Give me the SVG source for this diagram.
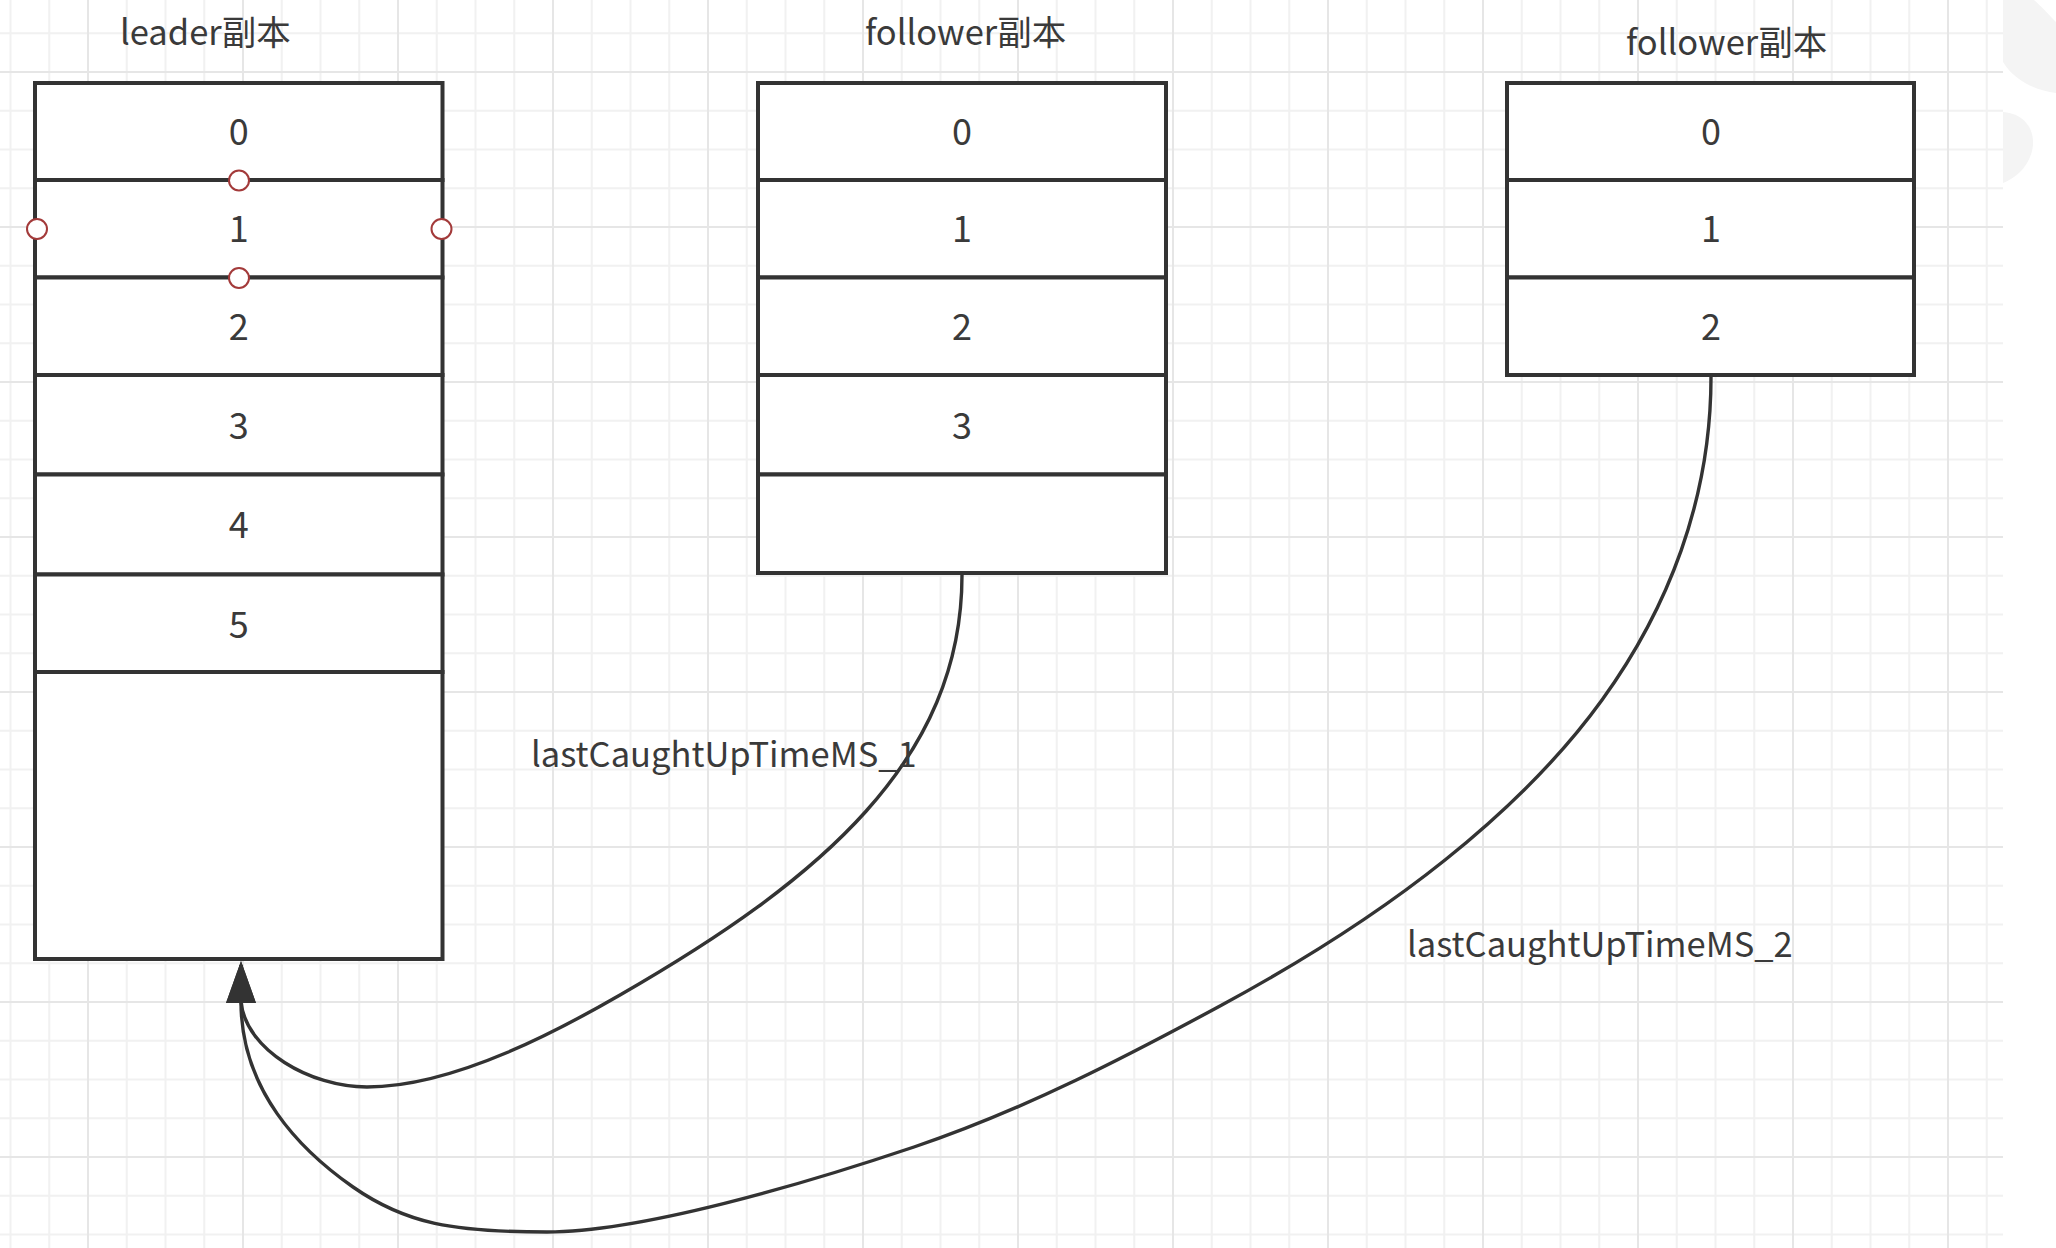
<svg xmlns="http://www.w3.org/2000/svg" width="2056" height="1248" viewBox="0 0 2056 1248">
  <defs>
    <pattern id="grid" x="87" y="71" width="155" height="155" patternUnits="userSpaceOnUse">
      <rect x="0" y="0" width="155" height="155" fill="#ffffff"/>
      <g fill="#f1f1f1">
        <rect x="38.75" y="0" width="2" height="155"/>
        <rect x="77.5" y="0" width="2" height="155"/>
        <rect x="116.25" y="0" width="2" height="155"/>
        <rect x="0" y="38.75" width="155" height="2"/>
        <rect x="0" y="77.5" width="155" height="2"/>
        <rect x="0" y="116.25" width="155" height="2"/>
      </g>
      <g fill="#e6e6e6">
        <rect x="0" y="0" width="2" height="155"/>
        <rect x="0" y="0" width="155" height="2"/>
      </g>
    </pattern>
    <marker id="arrow" markerUnits="userSpaceOnUse" markerWidth="44" markerHeight="32" refX="38" refY="15" orient="auto" viewBox="0 0 44 32">
      <path d="M0,0 L42,15 L0,30 Z" fill="#333333"/>
    </marker>
    <style>
      .cell { fill: #ffffff; stroke: #333333; stroke-width: 4; }
      .num { font-family: "Noto Sans CJK SC", "Noto Sans", sans-serif; font-size: 36px; fill: #3a3a3a; text-anchor: middle; }
      .title { font-family: "Noto Sans CJK SC", "Noto Sans", sans-serif; font-size: 34.5px; fill: #3a3a3a; }
      .lbl { font-family: "Noto Sans CJK SC", "Noto Sans", sans-serif; font-size: 34.5px; fill: #3a3a3a; }
      .edge { fill: none; stroke: #333333; stroke-width: 3.4; }
      .handle { fill: #ffffff; stroke: #a33a3a; stroke-width: 2; }
      .wm { fill: #f4f4f4; }
    </style>
  </defs>

  <rect x="0" y="0" width="2056" height="1248" fill="#ffffff"/>
  <rect x="0" y="0" width="2003" height="1248" fill="url(#grid)"/>
  <path class="wm" d="M2003 0 H2034 C2044 9 2051 17 2056 22 V93 C2034 90 2014 80 2003 62 Z"/>
  <path class="wm" d="M2003 112 C2024 114 2034 128 2033 145 C2031 165 2016 178 2003 183 Z"/>

  <g id="title-leader"><text class="title" x="120" y="45">leader副本</text></g>
  <g id="title-follower1"><text class="title" x="865" y="45">follower副本</text></g>
  <g id="title-follower2"><text class="title" x="1626" y="55">follower副本</text></g>

  <g id="leader">
    <g id="leader-0"><rect class="cell" x="35" y="83" width="407.5" height="97"/><text class="num" x="238.7" y="145">0</text></g>
    <g id="leader-1"><rect class="cell" x="35" y="180" width="407.5" height="97.5"/><text class="num" x="238.7" y="242">1</text></g>
    <g id="leader-2"><rect class="cell" x="35" y="277.5" width="407.5" height="97.5"/><text class="num" x="238.7" y="340">2</text></g>
    <g id="leader-3"><rect class="cell" x="35" y="375" width="407.5" height="99.5"/><text class="num" x="238.7" y="439">3</text></g>
    <g id="leader-4"><rect class="cell" x="35" y="474.5" width="407.5" height="100"/><text class="num" x="238.7" y="538">4</text></g>
    <g id="leader-5"><rect class="cell" x="35" y="574.5" width="407.5" height="97.5"/><text class="num" x="238.7" y="638">5</text></g>
    <g id="leader-6"><rect class="cell" x="35" y="672" width="407.5" height="287"/></g>
    <g id="leader-1-handles">
      <circle class="handle" cx="239" cy="180.5" r="10"/>
      <circle class="handle" cx="239" cy="278" r="10"/>
      <circle class="handle" cx="37" cy="229" r="10"/>
      <circle class="handle" cx="441.5" cy="229" r="10"/>
    </g>
  </g>

  <g id="follower1">
    <g id="follower1-0"><rect class="cell" x="758" y="83" width="408" height="97"/><text class="num" x="962" y="145">0</text></g>
    <g id="follower1-1"><rect class="cell" x="758" y="180" width="408" height="97.5"/><text class="num" x="962" y="242">1</text></g>
    <g id="follower1-2"><rect class="cell" x="758" y="277.5" width="408" height="97.5"/><text class="num" x="962" y="340">2</text></g>
    <g id="follower1-3"><rect class="cell" x="758" y="375" width="408" height="99.5"/><text class="num" x="962" y="439">3</text></g>
    <g id="follower1-4"><rect class="cell" x="758" y="474.5" width="408" height="98.5"/></g>
  </g>

  <g id="follower2">
    <g id="follower2-0"><rect class="cell" x="1507" y="83" width="407" height="97"/><text class="num" x="1711" y="145">0</text></g>
    <g id="follower2-1"><rect class="cell" x="1507" y="180" width="407" height="97.5"/><text class="num" x="1711" y="242">1</text></g>
    <g id="follower2-2"><rect class="cell" x="1507" y="277.5" width="407" height="97.5"/><text class="num" x="1711" y="340">2</text></g>
  </g>

  <g id="connectors">
    <path class="edge" marker-end="url(#arrow)" d="M962 575 C962 760 820 880 620 995 C568 1025 457 1087 367 1087 C310 1087 246 1050 241 1002 L241 965"/>
    <path class="edge" marker-end="url(#arrow)" d="M1711 377 C1711 500 1667.6 609.3 1602 700 C1561 756.7 1508.7 809 1445 860 C1381.3 911 1308.5 958.2 1220 1006 C1131.5 1053.8 1026.2 1109.3 914 1147 C801.8 1184.7 640.5 1232 547 1232 C453.5 1232 406 1224 353 1187 C300 1150 241 1090 241 1002 L241 965"/>
    <g id="label-1"><text class="lbl" x="531" y="767">lastCaughtUpTimeMS_1</text></g>
    <g id="label-2"><text class="lbl" x="1407" y="957">lastCaughtUpTimeMS_2</text></g>
  </g>
</svg>
